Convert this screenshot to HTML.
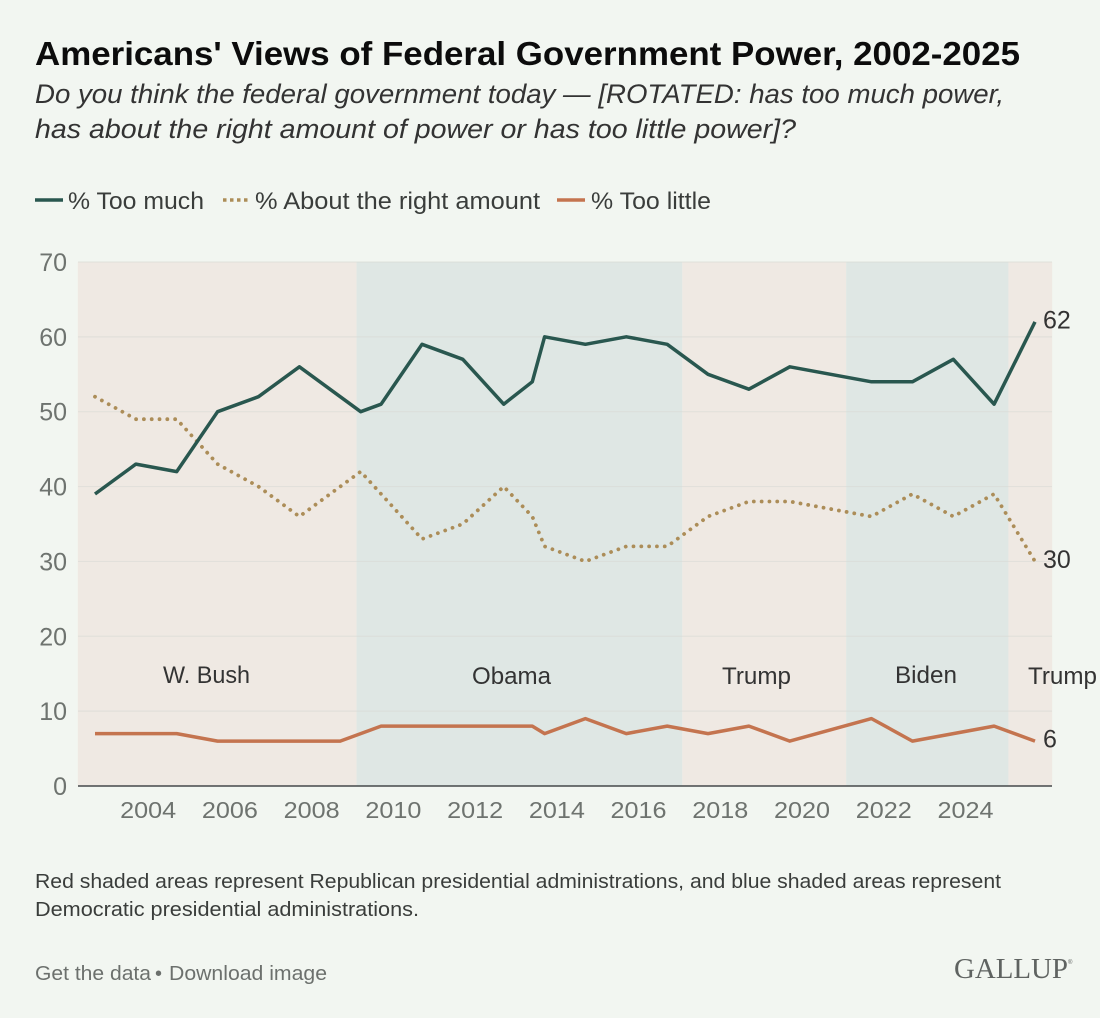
<!DOCTYPE html>
<html lang="en">
<head>
<meta charset="utf-8">
<title>Americans' Views of Federal Government Power, 2002-2025</title>
<style>
  html, body { margin: 0; padding: 0; background: #f2f6f1; }
  svg { display: block; font-family: "Liberation Sans", sans-serif; }
</style>
</head>
<body>
<svg id="chart" xmlns="http://www.w3.org/2000/svg" width="1100" height="1018" viewBox="0 0 1100 1018">
  <rect x="0" y="0" width="1100" height="1018" fill="#f2f6f1"/>

  <text x="35" y="65" font-size="33" font-weight="700" fill="#0c0c0c" textLength="985" lengthAdjust="spacingAndGlyphs">Americans' Views of Federal Government Power, 2002-2025</text>
  <text x="35" y="103" font-size="27" font-style="italic" fill="#333" textLength="969" lengthAdjust="spacingAndGlyphs">Do you think the federal government today — [ROTATED: has too much power,</text>
  <text x="35" y="138" font-size="27" font-style="italic" fill="#333" textLength="761" lengthAdjust="spacingAndGlyphs">has about the right amount of power or has too little power]?</text>

  <g font-size="24" fill="#3a3d3b">
    <line x1="35" x2="63" y1="200" y2="200" stroke="#29574f" stroke-width="3.5"/>
    <text x="68" y="209" textLength="136" lengthAdjust="spacingAndGlyphs">% Too much</text>
    <line x1="223" x2="250" y1="200" y2="200" stroke="#ac8d58" stroke-width="3.5" stroke-dasharray="3.5 3.5"/>
    <text x="255" y="209" textLength="285" lengthAdjust="spacingAndGlyphs">% About the right amount</text>
    <line x1="557" x2="585" y1="200" y2="200" stroke="#c4744f" stroke-width="3.5"/>
    <text x="591" y="209" textLength="120" lengthAdjust="spacingAndGlyphs">% Too little</text>
  </g>

  <g id="bands"></g>
  <g id="grid"></g>
  <g id="yticks"></g>
  <g id="xticks"></g>
  <line x1="78" x2="1052" y1="786" y2="786" stroke="#45484a" stroke-width="1.5"/>

  <g id="series"></g>
  <g id="endlabels"></g>

  <g font-size="24" fill="#333">
    <text x="163" y="683" textLength="87" lengthAdjust="spacingAndGlyphs">W. Bush</text>
    <text x="472" y="684" textLength="79" lengthAdjust="spacingAndGlyphs">Obama</text>
    <text x="722" y="684" textLength="69" lengthAdjust="spacingAndGlyphs">Trump</text>
    <text x="895" y="683" textLength="62" lengthAdjust="spacingAndGlyphs">Biden</text>
    <text x="1028" y="684" textLength="69" lengthAdjust="spacingAndGlyphs">Trump</text>
  </g>

  <text x="35" y="888" font-size="20" fill="#3a3d3b" textLength="966" lengthAdjust="spacingAndGlyphs">Red shaded areas represent Republican presidential administrations, and blue shaded areas represent</text>
  <text x="35" y="916" font-size="20" fill="#3a3d3b" textLength="384" lengthAdjust="spacingAndGlyphs">Democratic presidential administrations.</text>

  <text x="35" y="980" font-size="20" fill="#6c706d" textLength="116" lengthAdjust="spacingAndGlyphs">Get the data</text>
  <text x="155" y="980" font-size="20" fill="#6c706d">•</text>
  <text x="169" y="980" font-size="20" fill="#6c706d" textLength="158" lengthAdjust="spacingAndGlyphs">Download image</text>
  <text x="954" y="978" font-family="'Liberation Serif', serif" font-size="28" fill="#5f6361" textLength="114" lengthAdjust="spacingAndGlyphs">GALLUP</text>
  <text x="1068" y="964" font-size="6" fill="#5f6361">®</text>
</svg>

<script>
const surveyYears = [2002.7, 2003.7, 2004.7, 2005.7, 2006.7, 2007.7, 2008.7, 2009.2, 2009.7, 2010.7, 2011.7, 2012.7, 2013.4, 2013.7, 2014.7, 2015.7, 2016.7, 2017.7, 2018.7, 2019.7, 2021.7, 2022.7, 2023.7, 2024.7, 2025.7];
const tooMuch = [39, 43, 42, 50, 52, 56, 52, 50, 51, 59, 57, 51, 54, 60, 59, 60, 59, 55, 53, 56, 54, 54, 57, 51, 62];
const aboutRight = [52, 49, 49, 43, 40, 36, 40, 42, 39, 33, 35, 40, 36, 32, 30, 32, 32, 36, 38, 38, 36, 39, 36, 39, 30];
const tooLittle = [7, 7, 7, 6, 6, 6, 6, 7, 8, 8, 8, 8, 8, 7, 9, 7, 8, 7, 8, 6, 9, 6, 7, 8, 6];
const yTickValues = [0, 10, 20, 30, 40, 50, 60, 70];
const xTickYears = [2004, 2006, 2008, 2010, 2012, 2014, 2016, 2018, 2020, 2022, 2024];
const bandStarts = [2002.28, 2009.1, 2017.07, 2021.08, 2025.05];
const bandEnds = [2009.1, 2017.07, 2021.08, 2025.05, 2026.12];
const bandParties = ['republican', 'democratic', 'republican', 'democratic', 'republican'];

const NS = 'http://www.w3.org/2000/svg';
const xScale = function (year) { return 95 + (year - 2002.7) * 40.87; };
const yScale = function (value) { return 786 - value * 7.486; };
const partyFill = { republican: '#efe9e3', democratic: '#dfe7e4' };

function make(tag, parentId, attrs, text) {
  const el = document.createElementNS(NS, tag);
  Object.keys(attrs).forEach(function (k) { el.setAttribute(k, attrs[k]); });
  if (text !== undefined) el.textContent = text;
  document.getElementById(parentId).appendChild(el);
  return el;
}

bandStarts.forEach(function (start, i) {
  const band = make('rect', 'bands', {
    x: xScale(start), y: yScale(70),
    width: xScale(bandEnds[i]) - xScale(start),
    height: yScale(0) - yScale(70),
    fill: partyFill[bandParties[i]]
  });
  
  
});

yTickValues.forEach(function (v) {
  if (v > 0) {
    const line = make('line', 'grid', {
      x1: 78, x2: 1052, y1: yScale(v), y2: yScale(v),
      stroke: '#d9dad6', 'stroke-opacity': '0.6', 'stroke-width': 1.2
    });
    
    
  }
  const label = make('text', 'yticks', {
    x: 67, y: yScale(v) + 9, 'text-anchor': 'end', 'font-size': 25, fill: '#6e736f'
  }, String(v));
  
  
});

xTickYears.forEach(function (yr) {
  const label = make('text', 'xticks', {
    x: xScale(yr) - 28, y: 818, 'font-size': 23.5, fill: '#6e736f',
    textLength: 56, lengthAdjust: 'spacingAndGlyphs'
  }, String(yr));
  
  
});

function linePath(values) {
  return values.map(function (v, i) {
    return (i ? 'L' : 'M') + xScale(surveyYears[i]).toFixed(1) + ' ' + yScale(v).toFixed(1);
  }).join(' ');
}

const tooLittleLine = make('path', 'series', {
  d: linePath(tooLittle), fill: 'none', stroke: '#c4744f', 'stroke-width': 3.5, 'stroke-linejoin': 'round'
});



const aboutRightLine = make('path', 'series', {
  d: linePath(aboutRight), fill: 'none', stroke: '#ac8d58', 'stroke-width': 3.8,
  'stroke-linecap': 'round', 'stroke-dasharray': '0.01 7.8'
});



const tooMuchLine = make('path', 'series', {
  d: linePath(tooMuch), fill: 'none', stroke: '#29574f', 'stroke-width': 3.5, 'stroke-linejoin': 'round'
});



const lastX = xScale(surveyYears[surveyYears.length - 1]) + 8;

const endTooMuch = make('text', 'endlabels', {
  x: lastX, y: yScale(tooMuch[tooMuch.length - 1]) + 6.5, 'font-size': 25, fill: '#333'
}, String(tooMuch[tooMuch.length - 1]));



const endAboutRight = make('text', 'endlabels', {
  x: lastX, y: yScale(aboutRight[aboutRight.length - 1]) + 6.5, 'font-size': 25, fill: '#333'
}, String(aboutRight[aboutRight.length - 1]));



const endTooLittle = make('text', 'endlabels', {
  x: lastX, y: yScale(tooLittle[tooLittle.length - 1]) + 6.5, 'font-size': 25, fill: '#333'
}, String(tooLittle[tooLittle.length - 1]));


</script>
</body>
</html>
